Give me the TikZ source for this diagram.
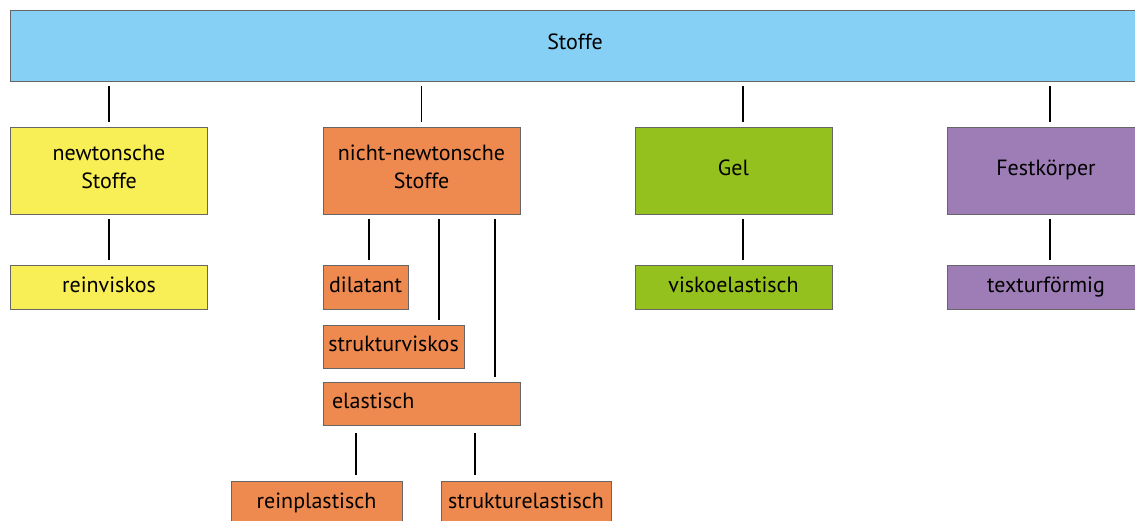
\documentclass[tikz,border=0pt]{standalone}
\usepackage{xcolor}
\usepackage{fontspec}
\setmainfont{PT Sans}
\definecolor{stoffblau}{RGB}{135,208,245}
\definecolor{newtongelb}{RGB}{248,238,85}
\definecolor{nnorange}{RGB}{238,138,80}
\definecolor{gelgruen}{RGB}{149,193,31}
\definecolor{festlila}{RGB}{158,125,182}

\begin{document}
\begin{tikzpicture}[
	x=1pt, y=-1pt,
	every node/.style = {shape=rectangle,
		draw=black!60, line width=0.8pt, align=center, inner sep=0pt,
		font=\fontsize{22}{28}\selectfont},
	oneline/.style = {text height=1.06em, text depth=0pt},
	big/.style = {minimum width=197pt, minimum height=87pt},
	small/.style = {oneline, minimum height=44pt},
	link/.style = {line width=1.7pt, shorten <=4.5pt, shorten >=4.5pt}]
	\useasboundingbox (0,0) rectangle (1135,520);

	\node[text height=0.7em, text depth=0pt, fill=stoffblau, minimum width=1130pt, minimum height=71pt] (stoffe) at (575,45.5) {Stoffe};

	\node[big, text depth=7pt, fill=newtongelb] (newton) at (109,170.5) {newtonsche\\Stoffe};
	\node[big, text depth=7pt, fill=nnorange] (nichtnewton) at (421.5,170.5) {nicht-newtonsche\\Stoffe};
	\node[big, oneline, fill=gelgruen] (gel) at (733.5,170.5) {Gel};
	\node[big, oneline, fill=festlila] (fest) at (1046,170.5) {Festkörper};

	\node[small, minimum width=197pt, fill=newtongelb] (reinviskos) at (109,287) {reinviskos};
	\node[small, minimum width=197pt, fill=gelgruen] (viskoelastisch) at (733.5,287) {viskoelastisch};
	\node[small, minimum width=197pt, fill=festlila] (textur) at (1046,287) {texturförmig};

	\node[small, minimum width=85pt, fill=nnorange] (dilatant) at (365.5,287) {dilatant};
	\node[small, minimum width=141pt, minimum height=43pt, fill=nnorange] (strukturviskos) at (393.5,346.5) {strukturviskos};
	\node[small, minimum height=43pt, fill=nnorange, inner xsep=9pt, text width=179pt, align=left] (elastisch) at (421.5,403.5) {elastisch};
	\node[small, minimum width=171pt, fill=nnorange] (reinplastisch) at (316.5,503) {reinplastisch};
	\node[small, minimum width=170pt, fill=nnorange] (strukturelastisch) at (526,503) {strukturelastisch};

	\draw[link] (newton.north |- stoffe.south) -- (newton.north);
	\draw[link] (nichtnewton.north |- stoffe.south) -- (nichtnewton.north);
	\draw[link] ([xshift=9.5pt]gel.north |- stoffe.south) -- ([xshift=9.5pt]gel.north);
	\draw[link] ([xshift=4pt]fest.north |- stoffe.south) -- ([xshift=4pt]fest.north);

	\draw[link] (newton.south) -- (reinviskos.north);
	\draw[link] ([xshift=9.5pt]gel.south) -- ([xshift=9.5pt]viskoelastisch.north);
	\draw[link] ([xshift=4pt]fest.south) -- ([xshift=4pt]textur.north);

	\draw[link] ([xshift=3.5pt]dilatant.north |- nichtnewton.south) -- ([xshift=3.5pt]dilatant.north);
	\draw[link] ([xshift=45.5pt]strukturviskos.north |- nichtnewton.south) -- ([xshift=45.5pt]strukturviskos.north);
	\draw[link] ([xshift=73.5pt]elastisch.north |- nichtnewton.south) -- ([xshift=73.5pt]elastisch.north);

	\draw[link, shorten <=8pt, shorten >=6pt] ([xshift=39.5pt]reinplastisch.north |- elastisch.south) -- ([xshift=39.5pt]reinplastisch.north);
	\draw[link, shorten <=8pt, shorten >=6pt] ([xshift=-51pt]strukturelastisch.north |- elastisch.south) -- ([xshift=-51pt]strukturelastisch.north);
\end{tikzpicture}
\end{document}
